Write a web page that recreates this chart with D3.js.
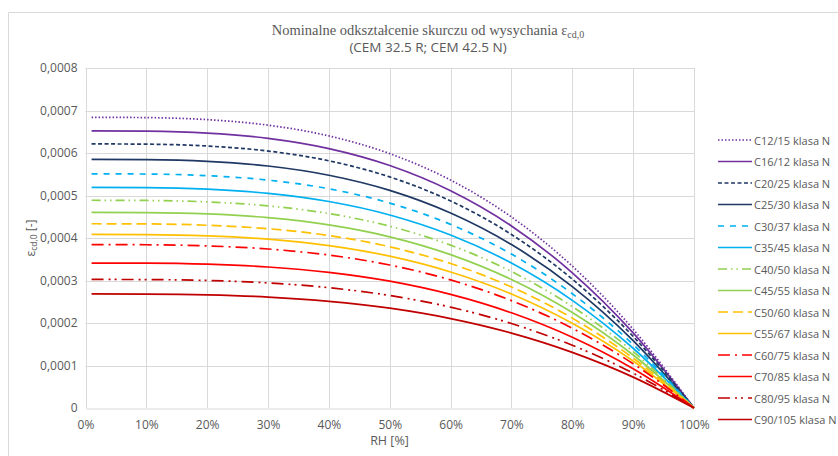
<!DOCTYPE html>
<html><head><meta charset="utf-8">
<script src="https://cdn.jsdelivr.net/npm/d3@7"></script>
<style>body{margin:0;background:#fff}svg{display:block}</style>
</head><body><svg id="c" width="838" height="456"></svg>
<script>
const rh = [1, 10, 20, 30, 40, 50, 60, 70, 80, 90, 100];
const names = ["C12/15 klasa N","C16/12 klasa N","C20/25 klasa N","C25/30 klasa N","C30/37 klasa N","C35/45 klasa N","C40/50 klasa N","C45/55 klasa N","C50/60 klasa N","C55/67 klasa N","C60/75 klasa N","C70/85 klasa N","C80/95 klasa N","C90/105 klasa N"];
const sC12 = [684.0e-6,683.3e-6,678.5e-6,665.5e-6,640.2e-6,598.5e-6,536.3e-6,449.4e-6,333.8e-6,185.4e-6,0];
const sC16 = [652.0e-6,651.3e-6,646.8e-6,634.4e-6,610.3e-6,570.5e-6,511.2e-6,428.4e-6,318.2e-6,176.7e-6,0];
const sC20 = [621.4e-6,620.8e-6,616.4e-6,604.6e-6,581.6e-6,543.7e-6,487.2e-6,408.3e-6,303.2e-6,168.4e-6,0];
const sC25 = [585.2e-6,584.6e-6,580.5e-6,569.4e-6,547.7e-6,512.1e-6,458.8e-6,384.5e-6,285.6e-6,158.6e-6,0];
const sC30 = [551.1e-6,550.5e-6,546.7e-6,536.2e-6,515.8e-6,482.2e-6,432.1e-6,362.1e-6,268.9e-6,149.3e-6,0];
const sC35 = [519.0e-6,518.5e-6,514.8e-6,505.0e-6,485.8e-6,454.1e-6,406.9e-6,341.0e-6,253.3e-6,140.6e-6,0];
const sC40 = [488.8e-6,488.3e-6,484.9e-6,475.6e-6,457.5e-6,427.7e-6,383.2e-6,321.1e-6,238.5e-6,132.5e-6,0];
const sC45 = [460.3e-6,459.8e-6,456.6e-6,447.9e-6,430.8e-6,402.8e-6,360.9e-6,302.4e-6,224.6e-6,124.7e-6,0];
const sC50 = [433.5e-6,433.1e-6,430.0e-6,421.8e-6,405.8e-6,379.3e-6,339.9e-6,284.8e-6,211.5e-6,117.5e-6,0];
const sC55 = [408.3e-6,407.9e-6,405.0e-6,397.3e-6,382.2e-6,357.3e-6,320.1e-6,268.3e-6,199.3e-6,110.6e-6,0];
const sC60 = [384.5e-6,384.1e-6,381.4e-6,374.1e-6,359.9e-6,336.4e-6,301.4e-6,252.6e-6,187.6e-6,104.2e-6,0];
const sC70 = [341.0e-6,340.7e-6,338.3e-6,331.8e-6,319.2e-6,298.4e-6,267.3e-6,224.0e-6,166.4e-6,92.4e-6,0];
const sC80 = [302.5e-6,302.2e-6,300.1e-6,294.3e-6,283.1e-6,264.7e-6,237.2e-6,198.7e-6,147.6e-6,82.0e-6,0];
const sC90 = [268.3e-6,268.0e-6,266.2e-6,261.1e-6,251.1e-6,234.8e-6,210.4e-6,176.3e-6,130.9e-6,72.7e-6,0];
const seriesValues = [sC12,sC16,sC20,sC25,sC30,sC35,sC40,sC45,sC50,sC55,sC60,sC70,sC80,sC90];
const xTicks = [0,10,20,30,40,50,60,70,80,90,100];
const yTicks = [0,0.0001,0.0002,0.0003,0.0004,0.0005,0.0006,0.0007,0.0008];

const colors = ["#7030A0","#7030A0","#1F3864","#1F3864","#00B0F0","#00B0F0","#92D050","#92D050","#FFC000","#FFC000","#FF0000","#FF0000","#C00000","#C00000"];
const dashes = ["1.5,2","","4,2.5","","6,6","","9,4,1.5,4,1.5,4","","10,5","","12,5,2,5","","12,5,2,4,2,5",""];

const svg = d3.select("#c");
const gray = "#595959";
const sans = "'Open Sans', 'Liberation Sans', sans-serif";
svg.append("path").attr("d","M8.5,456 L8.5,12.5 L838,12.5").attr("fill","none").attr("stroke","#d9d9d9");

const x = d3.scaleLinear().domain([0,100]).range([85.5,694]);
const y = d3.scaleLinear().domain([0,0.0008]).range([408,68]);

svg.append("g").selectAll("line").data(yTicks.slice(1)).join("line")
  .attr("x1",x(0)).attr("x2",x(100)).attr("y1",d=>Math.round(y(d))+0.5).attr("y2",d=>Math.round(y(d))+0.5)
  .attr("stroke","#d9d9d9").attr("stroke-width",1);
svg.append("g").selectAll("line").data(xTicks).join("line")
  .attr("x1",d=>Math.round(x(d))+0.5).attr("x2",d=>Math.round(x(d))+0.5).attr("y1",y(0)).attr("y2",y(0.0008))
  .attr("stroke","#d9d9d9").attr("stroke-width",1);

const fmtY = d => d===0 ? "0" : d3.format(".4f")(d).replace(".",",");
const yAxis = d3.axisLeft(y).tickValues(yTicks).tickFormat(fmtY).tickSize(0).tickPadding(8);
const gy = svg.append("g").attr("transform","translate(85.5,0)").call(yAxis);
gy.select(".domain").remove();
gy.selectAll("text").attr("fill",gray).attr("font-family",sans).attr("font-size","12px");

const xAxis = d3.axisBottom(x).tickValues(xTicks).tickFormat(d=>d+"%").tickSize(0).tickPadding(12);
const gx = svg.append("g").attr("transform","translate(0,408.5)").call(xAxis);
gx.select(".domain").attr("stroke","#d9d9d9");
gx.selectAll("text").attr("fill",gray).attr("font-family",sans).attr("font-size","12px");

const line = d3.line().x((d,i)=>x(rh[i])).y(d=>y(d)).curve(d3.curveMonotoneX);
const lg = svg.append("g");
seriesValues.forEach((vals,k)=>{
  lg.append("path").datum(vals).attr("d",line).attr("fill","none")
    .attr("stroke",colors[k]).attr("stroke-width",1.7)
    .attr("stroke-dasharray",dashes[k]||null);
});

svg.append("text").attr("x",428).attr("y",35).attr("text-anchor","middle")
  .attr("font-family","'Liberation Serif', serif").attr("font-size","14.5px").attr("fill",gray)
  .text("Nominalne odkształcenie skurczu od wysychania ε")
  .append("tspan").attr("font-size","10px").attr("dy",3).text("cd,0");
svg.append("text").attr("x",428).attr("y",52).attr("text-anchor","middle")
  .attr("font-family",sans).attr("font-size","13.5px").attr("fill",gray)
  .text("(CEM 32.5 R; CEM 42.5 N)");

svg.append("text").attr("x",389.5).attr("y",445).attr("text-anchor","middle")
  .attr("font-family",sans).attr("font-size","12.5px").attr("fill",gray)
  .text("RH [%]");
const yl = svg.append("text").attr("transform","translate(35,238) rotate(-90)").attr("text-anchor","middle")
  .attr("font-family",sans).attr("font-size","12px").attr("fill",gray);
yl.append("tspan").text("ε");
yl.append("tspan").attr("font-size","8.5px").attr("dy",2).text("cd,0");
yl.append("tspan").attr("dy",-2).text(" [-]");

const leg = svg.append("g");
names.forEach((n,k)=>{
  const yy = 140 + k*21.5;
  leg.append("line").attr("x1",718).attr("x2",752).attr("y1",yy).attr("y2",yy)
    .attr("stroke",colors[k]).attr("stroke-width",1.7).attr("stroke-dasharray",dashes[k]||null);
  leg.append("text").attr("x",754).attr("y",yy+4.5).attr("font-family",sans)
    .attr("font-size","11px").attr("fill",gray).text(n);
});
</script></body></html>
